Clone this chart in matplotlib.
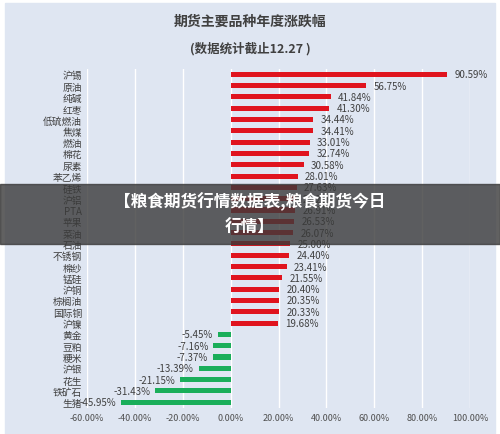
import matplotlib.pyplot as plt
import matplotlib.patches as mpatches

plt.rcParams['font.family'] = ['Noto Sans CJK SC', 'DejaVu Sans']

names = ['沪锡', '原油', '纯碱', '红枣', '低硫燃油', '焦煤', '燃油', '棉花', '尿素', '苯乙烯',
         '硅铁', '沪铝', 'PTA', '苹果', '菜油', '石油', '不锈钢', '棉纱', '锰硅', '沪铜',
         '棕榈油', '国际铜', '沪镍', '黄金', '豆粕', '粳米', '沪银', '花生', '铁矿石', '生猪']
values = [90.59, 56.75, 41.84, 41.30, 34.44, 34.41, 33.01, 32.74, 30.58, 28.01,
          27.63, 27.20, 26.91, 26.53, 26.07, 25.00, 24.40, 23.41, 21.55, 20.40,
          20.35, 20.33, 19.68, -5.45, -7.16, -7.37, -13.39, -21.15, -31.43, -45.95]
xticks = [-60, -40, -20, 0, 20, 40, 60, 80, 100]

fig = plt.figure(figsize=(5.0, 4.35), dpi=100)
fig.patch.set_facecolor('white')
bg = mpatches.Rectangle((0.01, 0.0), 0.98, 0.99, transform=fig.transFigure,
                        color='#dfe6f2', zorder=-10)
fig.patches.append(bg)

ax = fig.add_axes([0.174, 0.06, 0.766, 0.78])
ax.set_facecolor('none')
y = list(range(len(names)))
colors = ['#e0141e' if v > 0 else '#1aae5a' for v in values]
ax.barh(y, values, height=0.45, color=colors)
for yi, v in zip(y, values):
    if v > 0:
        ax.text(v + 3, yi, f'{v:.2f}%', va='center', ha='left', fontsize=7, color='#404040')
    else:
        ax.text(v - 2, yi, f'{v:.2f}%', va='center', ha='right', fontsize=7, color='#404040')
ax.set_yticks(y)
ax.set_yticklabels(names, fontsize=7, color='#404040')
ax.set_ylim(len(names) - 0.5, -0.5)
ax.set_xlim(-60, 100)
ax.set_xticks(xticks)
ax.set_xticklabels([f'{t:.2f}%' for t in xticks], fontsize=6.5, color='#505050')
ax.grid(axis='x', color='white', linewidth=1)
ax.set_axisbelow(True)
for s in ax.spines.values():
    s.set_visible(False)
ax.tick_params(length=0)

fig.text(0.5, 0.94, '期货主要品种年度涨跌幅', ha='center', fontsize=10, weight='bold', color='#404040')
fig.text(0.5, 0.88, '(数据统计截止12.27 )', ha='center', fontsize=9, weight='bold', color='#404040')

banner = mpatches.Rectangle((0.0, 0.437), 1.0, 0.138, transform=fig.transFigure,
                            color='#3a3a3a', alpha=0.8, zorder=5)
fig.patches.append(banner)
fig.text(0.5, 0.535, '【粮食期货行情数据表,粮食期货今日', ha='center', va='center',
         fontsize=12, weight='bold', color='white', zorder=6)
fig.text(0.5, 0.475, '行情】', ha='center', va='center',
         fontsize=12, weight='bold', color='white', zorder=6)

fig.savefig('out.png', dpi=100)
